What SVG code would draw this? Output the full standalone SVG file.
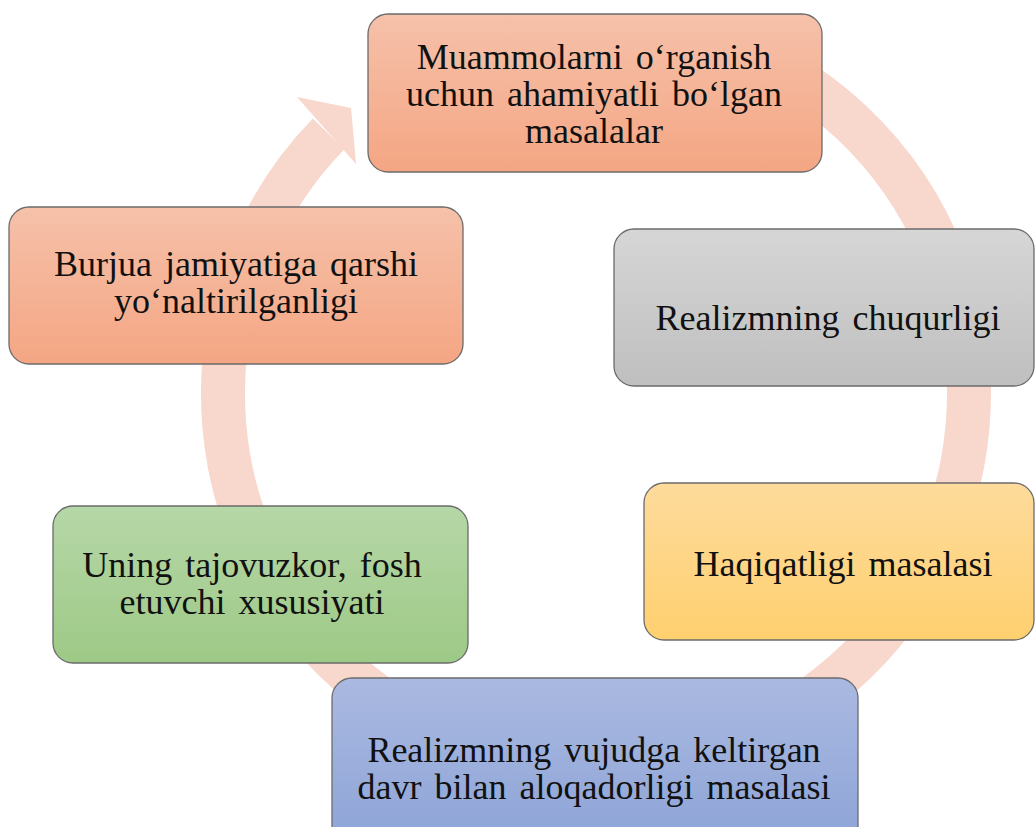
<svg xmlns="http://www.w3.org/2000/svg" width="1035" height="827" viewBox="0 0 1035 827">
<style>
.node rect { stroke: #6b6b6b; stroke-width: 1.3; }
.node text { font-family: "Liberation Serif", "Times New Roman", serif; font-size: 36px; fill: #111; text-anchor: middle; word-spacing: 4px; }
.ring { fill: none; stroke: #F8D7CD; stroke-width: 44; }
.head { fill: #F8D7CD; }
</style>
<defs>
<linearGradient id="gSalmon" x1="0" y1="0" x2="0" y2="1"><stop offset="0" stop-color="#F6C1AA"/><stop offset="1" stop-color="#F4A683"/></linearGradient>
<linearGradient id="gGray" x1="0" y1="0" x2="0" y2="1"><stop offset="0" stop-color="#D6D6D6"/><stop offset="1" stop-color="#BFBFBF"/></linearGradient>
<linearGradient id="gYellow" x1="0" y1="0" x2="0" y2="1"><stop offset="0" stop-color="#FEDB9C"/><stop offset="1" stop-color="#FFD06F"/></linearGradient>
<linearGradient id="gBlue" x1="0" y1="0" x2="0" y2="1"><stop offset="0" stop-color="#AAB9E1"/><stop offset="1" stop-color="#8DA4D7"/></linearGradient>
<linearGradient id="gGreen" x1="0" y1="0" x2="0" y2="1"><stop offset="0" stop-color="#B6D7A7"/><stop offset="1" stop-color="#9DC986"/></linearGradient>
</defs>
<rect x="0" y="0" width="1035" height="827" fill="#ffffff"/>
<g id="connectors">
<path class="ring" d="M 723.6 43.5 A 373 373 0 1 1 328.6 133.9"/>
<polygon class="head" points="297,97 351,108 356,164"/>
</g>
<g id="node-top" class="node">
<rect x="368" y="14" width="454" height="158" rx="20" fill="url(#gSalmon)"/>
<text><tspan x="594" y="69">Muammolarni o‘rganish</tspan><tspan x="594" dy="37">uchun ahamiyatli bo‘lgan</tspan><tspan x="594" dy="37">masalalar</tspan></text>
</g>
<g id="node-gray" class="node">
<rect x="614" y="229" width="420" height="157" rx="20" fill="url(#gGray)"/>
<text x="828" y="330">Realizmning chuqurligi</text>
</g>
<g id="node-yellow" class="node">
<rect x="644" y="483" width="390" height="157" rx="20" fill="url(#gYellow)"/>
<text x="843" y="576">Haqiqatligi masalasi</text>
</g>
<g id="node-blue" class="node">
<rect x="332" y="678" width="526" height="170" rx="20" fill="url(#gBlue)"/>
<text><tspan x="594" y="762">Realizmning vujudga keltirgan</tspan><tspan x="594" dy="37">davr bilan aloqadorligi masalasi</tspan></text>
</g>
<g id="node-green" class="node">
<rect x="53" y="506" width="415" height="157" rx="20" fill="url(#gGreen)"/>
<text><tspan x="252" y="577">Uning tajovuzkor, fosh</tspan><tspan x="252" dy="37">etuvchi xususiyati</tspan></text>
</g>
<g id="node-burjua" class="node">
<rect x="9" y="207" width="454" height="157" rx="20" fill="url(#gSalmon)"/>
<text><tspan x="236" y="276">Burjua jamiyatiga qarshi</tspan><tspan x="236" dy="37">yo‘naltirilganligi</tspan></text>
</g>
</svg>
